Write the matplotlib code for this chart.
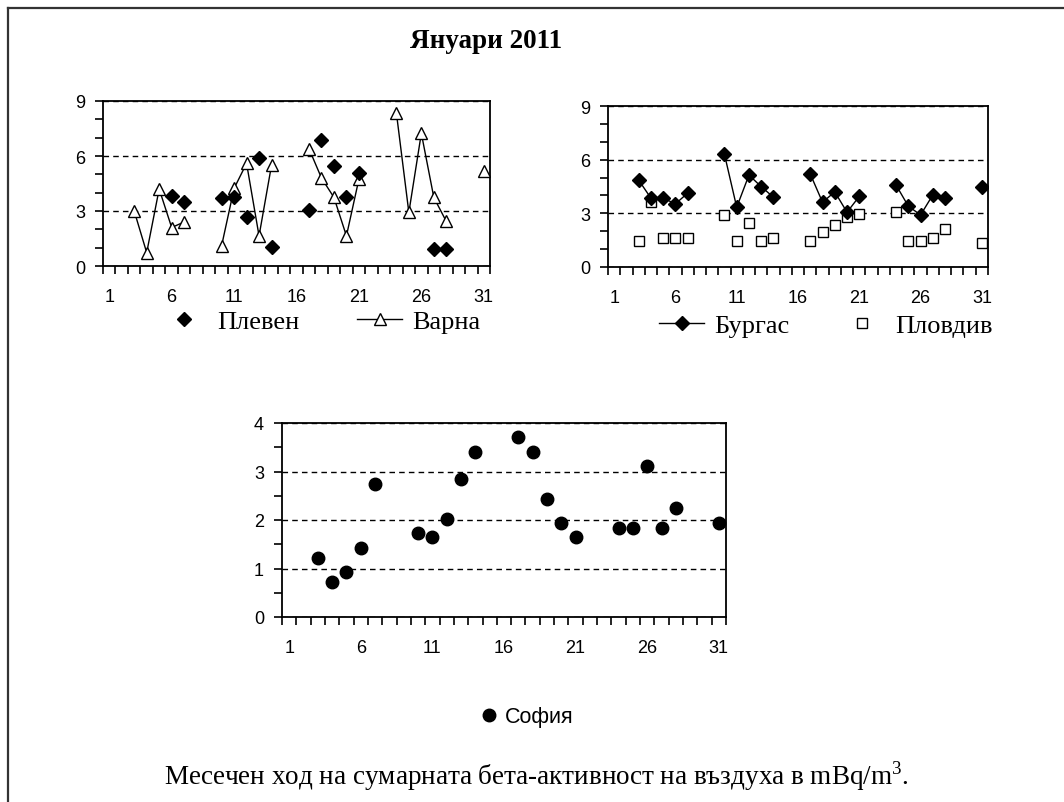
import numpy as np
import pandas as pd
import matplotlib.pyplot as plt
from matplotlib.lines import Line2D
from matplotlib.ticker import MultipleLocator, FixedLocator

plt.rcParams['font.family'] = ['Liberation Sans', 'DejaVu Sans']
plt.rcParams['mathtext.fontset'] = 'custom'
plt.rcParams['mathtext.rm'] = 'Liberation Serif'

# measurement days in January 2011
days = [3, 4, 5, 6, 7, 10, 11, 12, 13, 14, 17, 18, 19, 20, 21, 24, 25, 26, 27, 28, 31]
nan = np.nan
pleven = [nan, nan, nan, 3.83, 3.5, 3.69, 3.74, 2.65, 5.9, 1.04, 3.07, 6.88, 5.44, 3.78, 5.1,
          nan, nan, nan, 0.95, 0.95, nan]
varna = [3.0, 0.73, 4.2, 2.1, 2.4, 1.1, 4.23, 5.6, 1.64, 5.5, 6.4, 4.8, 3.74, 1.64, 4.74,
         8.36, 2.92, 7.24, 3.74, 2.43, 5.2]
burgas = [4.86, 3.85, 3.85, 3.53, 4.13, 6.3, 3.34, 5.14, 4.49, 3.9, 5.2, 3.62, 4.2, 3.06, 3.95,
          4.58, 3.4, 2.91, 4.03, 3.84, 4.5]
plovdiv = [1.45, 3.62, 1.63, 1.63, 1.63, 2.88, 1.45, 2.45, 1.45, 1.63, 1.45, 1.98, 2.36, 2.78, 2.97,
           3.06, 1.45, 1.45, 1.63, 2.1, 1.35]
sofia = [1.22, 0.72, 0.92, 1.43, 2.74, 1.74, 1.64, 2.03, 2.85, 3.41, 3.72, 3.41, 2.44, 1.94, 1.64,
         1.83, 1.83, 3.11, 1.83, 2.24, 1.93]

day_labels = [1, 6, 11, 16, 21, 26, 31]
title = 'Януари 2011'
caption = 'Месечен ход на сумарната бета-активност на въздуха в mBq/m$^{3}$.'

W, H = 1064, 803
fig = plt.figure(figsize=(W / 100, H / 100), dpi=100)


def full_month(vals):
    # reindex to every day so lines break on missing days
    return pd.Series(vals, index=days).reindex(range(1, 32))


def make_axes(left, top, right, bottom):
    return fig.add_axes([left / W, 1 - bottom / H, (right - left) / W, (bottom - top) / H])


def style(ax, ymax, ystep, yminor):
    ax.set_xlim(0.5, 31.5)
    ax.set_ylim(0, ymax)
    ax.xaxis.set_major_locator(FixedLocator(day_labels))
    ax.xaxis.set_minor_locator(MultipleLocator(1, offset=0.5))
    ax.yaxis.set_major_locator(MultipleLocator(ystep))
    ax.yaxis.set_minor_locator(MultipleLocator(yminor))
    ax.tick_params(axis='x', which='major', length=0, pad=16, labelsize=13)
    ax.tick_params(axis='x', which='minor', length=6, width=1.2, direction='out')
    ax.tick_params(axis='y', which='both', length=6, width=1.2, direction='out', pad=7, labelsize=13)
    for s in ax.spines.values():
        s.set_linewidth(1.3)
    ax.grid(axis='y', which='major', color='black', lw=1, ls=(0, (4, 3)))
    ax.set_axisbelow(True)


serif = {'family': 'Liberation Serif', 'size': 19}

# Плевен / Варна
ax1 = make_axes(103, 102, 490, 267)
style(ax1, 9, 3, 1)
ax1.plot(range(1, 32), full_month(varna), color='black', lw=1, marker='^', ms=9,
         mfc='white', mec='black', mew=1, label='Варна', zorder=3)
ax1.plot(range(1, 32), full_month(pleven), ls='none', marker='D', ms=7, color='black',
         label='Плевен', zorder=4)
h1 = [ax1.lines[1], ax1.lines[0]]
fig.legend(handles=h1, labels=['Плевен', 'Варна'], loc='center', bbox_to_anchor=(321 / W, 1 - 322 / H),
           ncol=2, frameon=False, prop=serif, handlelength=1.7, columnspacing=2.2, handletextpad=0.4)

# Бургас / Пловдив
ax2 = make_axes(608, 107, 988, 268)
style(ax2, 9, 3, 1)
ax2.plot(range(1, 32), full_month(burgas), color='black', lw=1, marker='D', ms=7,
         label='Бургас', zorder=4)
ax2.plot(range(1, 32), full_month(plovdiv), ls='none', marker='s', ms=7.5, mfc='white',
         mec='black', mew=1, label='Пловдив', zorder=3)
fig.legend(handles=ax2.lines, labels=['Бургас', 'Пловдив'], loc='center', bbox_to_anchor=(826 / W, 1 - 326 / H),
           ncol=2, frameon=False, prop=serif, handlelength=1.7, columnspacing=1.9, handletextpad=0.4)

# София
ax3 = make_axes(282, 424, 726, 618)
style(ax3, 4, 1, 0.5)
ax3.plot(range(1, 32), full_month(sofia), ls='none', marker='o', ms=9, color='black', label='София')
fig.legend(handles=ax3.lines, labels=['София'], loc='center', bbox_to_anchor=(527 / W, 1 - 718 / H),
           frameon=False, prop={'family': 'Liberation Sans', 'size': 15.5}, handlelength=0.8, handletextpad=0.3)

fig.text(486 / W, 1 - 48 / H, title, ha='center', va='baseline', family='Liberation Serif',
         weight='bold', size=19.5)
fig.text(536 / W, 1 - 785 / H, caption, ha='center', va='baseline', family='Liberation Serif', size=19.5)

# frame around the page
fig.add_artist(Line2D([8 / W, 1], [1 - 9 / H, 1 - 9 / H], color='#333333', lw=1.6))
fig.add_artist(Line2D([8 / W, 8 / W], [0, 1 - 9 / H], color='#333333', lw=1.6))

fig.savefig('out.png', dpi=100)
